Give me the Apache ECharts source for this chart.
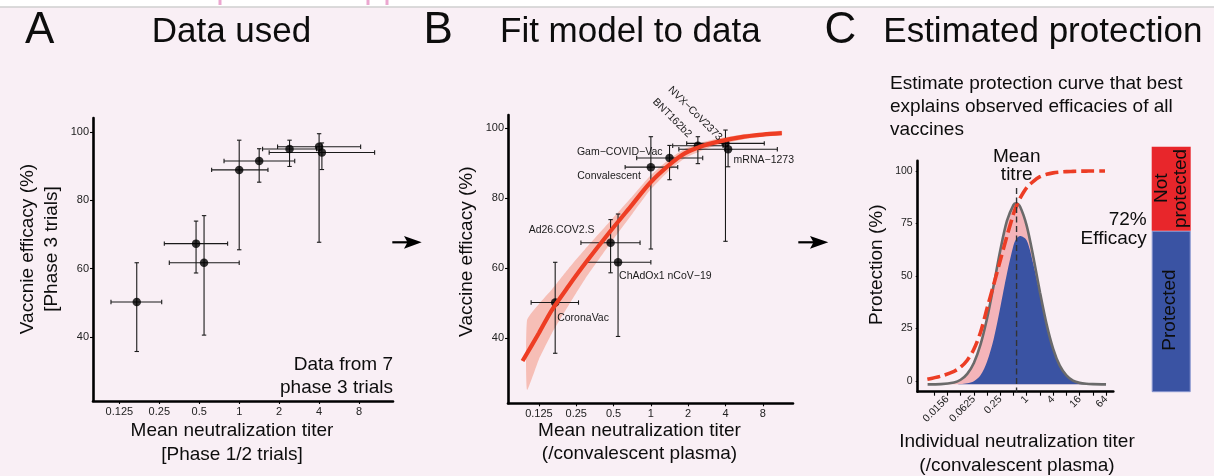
<!DOCTYPE html>
<html><head><meta charset="utf-8">
<script src="https://cdn.jsdelivr.net/npm/echarts@6/dist/echarts.min.js"></script>
<style>html,body{margin:0;padding:0;background:#f9eff5;}#c{width:1214px;height:476px;}</style>
</head><body><div id="c"></div>
<script>
// ---------------- DATA ----------------
const vaccines = ['CoronaVac','Ad26.COV2.S','ChAdOx1 nCoV\u221219','Convalescent','Gam\u2212COVID\u2212Vac','BNT162b2','NVX\u2212CoV2373','mRNA\u22121273'];
// mean neutralization titer, log2 units (relative to convalescent)
const log2Titer   = [-2.565,-1.08,-0.88, 0.00, 0.50, 1.26, 2.00, 2.07];
const log2TiterLo = [-3.21,-1.875,-1.75,-0.69,-0.38, 0.585, 0.96, 0.75];
const log2TiterHi = [-1.94,-0.29, 0.00, 0.72, 1.39, 1.935, 3.04, 3.39];
const efficacy    = [50.2, 67.3, 61.7, 88.9, 91.5, 95.0, 95.7, 94.0];
const efficacyLo  = [35.7, 58.7, 40.5, 65.5, 85.3, 89.9, 67.7, 89.0];
const efficacyHi  = [61.7, 73.9, 75.5, 97.6, 95.1, 97.6, 99.5, 96.8];

// fitted curve (panel B)
const fitLog2 = [-3.44,-3.0,-2.65,-2.2,-1.76,-1.13,-0.5,-0.03,0.5,0.92,1.4,1.81,2.5,3.0,3.51];
const fitEff  = [33.5,41.5,48.1,55.0,61.4,70.0,78.2,84.3,89.6,92.9,95.0,96.2,97.6,98.2,98.6];
const bandLog2  = [-3.32,-3.0,-2.65,-2.2,-1.76,-1.13,-0.5,-0.03,0.5,0.92,1.4,1.81,2.5,3.0,3.51];
const bandUpper = [45.2,49.8,54.0,60.0,65.5,73.0,80.5,86.3,91.2,94.2,96.1,97.1,98.3,98.8,99.3];
const bandLower = [25.2,34.0,41.5,49.5,57.0,66.5,75.5,82.2,88.0,91.5,93.8,95.3,96.9,97.6,98.0];

// panel C: individual titre distribution and protection
const cLog2 = [-7.5,-6.5,-5.5,-5,-4.5,-4,-3.5,-3,-2.5,-2,-1.5,-1,-0.8,-0.5,0,0.5,1,1.5,2,2.5,3,3.5,4,4.5,5,6];
const titreDensity     = [-1.7,-1.6,-0.8,0.5,3.3,8.5,17.2,29.8,45.5,62.2,76.1,83.8,84.5,82.9,73.8,58.9,42.2,27.0,15.2,7.2,2.6,0.1,-1.0,-1.45,-1.6,-1.7];
const protectedDensity = [-1.7,-1.7,-1.66,-1.56,-1.2,-0.2,2.6,9.2,19.9,35.0,51.0,64.5,67.5,68.9,66.8,55.5,41.0,26.5,15.0,7.15,2.6,0.1,-1.0,-1.45,-1.6,-1.7];
const protectionLog2 = [-7.52,-6.5,-5.5,-5,-4.5,-4,-3.5,-3,-2.5,-2,-1.5,-1,-0.8,-0.5,0,0.5,1,1.5,2,2.5,3,3.5,4,4.5,5,5.92];
const protectionPct  = [0.7,2.2,4.5,6.5,9.8,15,23,34.5,45.8,57.4,68.8,79.5,83,87,92,95,97.2,98.3,99,99.4,99.6,99.7,99.8,99.85,99.9,99.9];
const meanTitreLog2 = -0.77;
const densityBaseline = -1.7;
const efficacyBar = {protected: 72, notProtected: 28};

// ticks
const abTickLog2 = [-3,-2,-1,0,1,2,3];
const abTickLabels = ['0.125','0.25','0.5','1','2','4','8'];
const effTicks = [40,60,80,100];
const cTickLog2 = [-7,-6,-5,-4,-3,-2,-1,0,1,2,3,4,5,6];
const cLabelLog2 = [-6,-4,-2,0,2,4,6];
const cLabels = ['0.0156','0.0625','0.25','1','4','16','64'];
const cYTicks = [0,25,50,75,100];

// ---------------- CHART ----------------
const FONT = '"Liberation Sans", Arial, Helvetica, sans-serif';
const chart = echarts.init(document.getElementById('c'));
function fmtFrom(ticks, labels){ return v => { const i = ticks.findIndex(t => Math.abs(t - v) < 1e-6); return i < 0 ? '' : labels[i]; }; }
function axis(gi, min, max, tickVals, labelVals, fmt, o){
  o = o || {};
  return {
    type:'value', gridIndex:gi, min:min, max:max, scale:true,
    axisLine:{show:true, onZero:false, lineStyle:{color:'#000', width:2.6}},
    axisTick:{show:true, customValues:tickVals, length:o.tickLen||3, lineStyle:{color:'#000', width:1.1}},
    axisLabel:{show:true, customValues:labelVals, formatter:fmt, fontSize:o.fs||11, color:'#222', margin:o.margin||5, rotate:o.rotate||0, fontFamily:FONT},
    splitLine:{show:false}
  };
}
const pts = log2Titer.map((x,i)=>[x, efficacy[i], log2TiterLo[i], log2TiterHi[i], efficacyLo[i], efficacyHi[i]]);
function errRender(params, api){
  const x=api.value(0), y=api.value(1), xl=api.value(2), xh=api.value(3), yl=api.value(4), yh=api.value(5);
  const c=api.coord([x,y]), pl=api.coord([xl,y]), ph=api.coord([xh,y]), ql=api.coord([x,yl]), qh=api.coord([x,yh]);
  const k=2.2, st={stroke:'#1a1a1a', lineWidth:1.1};
  return {type:'group', children:[
    {type:'line', shape:{x1:pl[0],y1:c[1],x2:ph[0],y2:c[1]}, style:st},
    {type:'line', shape:{x1:pl[0],y1:c[1]-k,x2:pl[0],y2:c[1]+k}, style:st},
    {type:'line', shape:{x1:ph[0],y1:c[1]-k,x2:ph[0],y2:c[1]+k}, style:st},
    {type:'line', shape:{x1:c[0],y1:ql[1],x2:c[0],y2:qh[1]}, style:st},
    {type:'line', shape:{x1:c[0]-k,y1:ql[1],x2:c[0]+k,y2:ql[1]}, style:st},
    {type:'line', shape:{x1:c[0]-k,y1:qh[1],x2:c[0]+k,y2:qh[1]}, style:st}
  ]};
}
// confidence band: one polygon built from upper edge and reversed lower edge
const bandData = bandLog2.map((x,i)=>[x, bandLower[i], bandUpper[i]]);
function bandRender(params, api){
  if (params.dataIndex !== 0) return null;
  const up = bandData.map(d => api.coord([d[0], d[2]]));
  const lo = bandData.map(d => api.coord([d[0], d[1]])).reverse();
  return {type:'polygon', shape:{points:up.concat(lo), smooth:0.15}, style:{fill:'#f6beb6'}};
}
const abFmt = fmtFrom(abTickLog2, abTickLabels);

const option = {
  animation:false,
  backgroundColor:'#f9eff5',
  textStyle:{fontFamily:FONT},
  grid:[
    {left:93, top:118, width:300, height:283},
    {left:508, top:115, width:285, height:288.3},
    {left:917.7, top:160.7, width:195.6, height:231},
    {left:1151.7, top:146.7, width:39, height:245}
  ],
  xAxis:[
    axis(0,-3.66,3.85,abTickLog2,abTickLog2,abFmt,{margin:5}),
    axis(1,-3.83,3.81,abTickLog2,abTickLog2,abFmt,{margin:5}),
    axis(2,-8.25,6.55,cTickLog2,cLabelLog2,fmtFrom(cLabelLog2,cLabels),{rotate:45,tickLen:4,margin:6,fs:10.5}),
    {type:'category', gridIndex:3, data:['Efficacy'], show:false}
  ],
  yAxis:[
    axis(0,21.2,104.1,effTicks,effTicks,v=>String(v),{margin:4}),
    axis(1,21.4,103.8,effTicks,effTicks,v=>String(v),{margin:4}),
    axis(2,-5.2,104.8,cYTicks,cYTicks,v=>String(v),{margin:5,fs:10.5,tickLen:2}),
    {type:'value', gridIndex:3, min:18.3, max:100, show:false}
  ],
  series:[
    // Panel A
    {type:'custom', xAxisIndex:0, yAxisIndex:0, renderItem:errRender, data:pts, encode:{x:[0,2,3], y:[1,4,5]}},
    {type:'scatter', xAxisIndex:0, yAxisIndex:0, symbolSize:8.5, itemStyle:{color:'#000'}, data:pts.map(p=>[p[0],p[1]])},
    // Panel B
    {type:'custom', xAxisIndex:1, yAxisIndex:1, renderItem:bandRender, data:bandData, encode:{x:0, y:[1,2]}, silent:true},
    {type:'custom', xAxisIndex:1, yAxisIndex:1, renderItem:errRender, data:pts, encode:{x:[0,2,3], y:[1,4,5]}},
    {type:'line', xAxisIndex:1, yAxisIndex:1, symbol:'none', smooth:0.3, lineStyle:{color:'#ee3d23', width:4.2, cap:'butt'},
      data:fitLog2.map((x,i)=>[x,fitEff[i]])},
    {type:'scatter', xAxisIndex:1, yAxisIndex:1, symbolSize:8.5, itemStyle:{color:'#000'}, data:pts.map(p=>[p[0],p[1]])},
    // Panel C
    {type:'line', xAxisIndex:2, yAxisIndex:2, symbol:'none', smooth:0.3, lineStyle:{opacity:0},
      areaStyle:{color:'#f4b4b9', opacity:1, origin:densityBaseline}, data:cLog2.map((x,i)=>[x,titreDensity[i]])},
    {type:'line', xAxisIndex:2, yAxisIndex:2, symbol:'none', smooth:0.3, lineStyle:{opacity:0},
      areaStyle:{color:'#3a53a3', opacity:1, origin:densityBaseline}, data:cLog2.map((x,i)=>[x,protectedDensity[i]])},
    {type:'line', xAxisIndex:2, yAxisIndex:2, symbol:'none', smooth:0.3, lineStyle:{color:'#6a6a6a', width:2.6},
      data:cLog2.map((x,i)=>[x,titreDensity[i]])},
    {type:'line', xAxisIndex:2, yAxisIndex:2, symbol:'none', smooth:0.3, lineStyle:{color:'#ec3d25', width:3.6, type:[13,5]},
      data:protectionLog2.map((x,i)=>[x,protectionPct[i]])},
    {type:'line', xAxisIndex:2, yAxisIndex:2, symbol:'none', lineStyle:{color:'#333', width:1.4, type:[6,3.5]},
      data:[[meanTitreLog2,91.8],[meanTitreLog2,-5.2]]},
    // Efficacy bar
    {type:'bar', xAxisIndex:3, yAxisIndex:3, stack:'e', barWidth:'100%', data:[efficacyBar.protected],
      itemStyle:{color:'#3a53a3', borderColor:'#8795cf', borderWidth:1}},
    {type:'bar', xAxisIndex:3, yAxisIndex:3, stack:'e', barWidth:'100%', data:[efficacyBar.notProtected],
      itemStyle:{color:'#e8262b'}}
  ]
};

function txt(t, x, y, size, o){
  o = o || {};
  return {type:'text', x:x, y:y, rotation:o.rot||0, silent:true, z:100,
    style:{text:t, fill:o.color||'#0d0d0d', fontSize:size, fontFamily:FONT, align:o.align||'center', verticalAlign:'middle'}};
}
const graphics = [
  {type:'rect', shape:{x:0,y:0,width:1214,height:7}, style:{fill:'#ffffff'}, silent:true},
  {type:'line', shape:{x1:0,y1:7,x2:1214,y2:7}, style:{stroke:'#cfcfcf', lineWidth:1.5}, silent:true},
  {type:'rect', shape:{x:218.5,y:0,width:3,height:5}, style:{fill:'#eba7d0'}, silent:true},
  {type:'rect', shape:{x:366.5,y:0,width:3,height:5}, style:{fill:'#eba7d0'}, silent:true},
  {type:'rect', shape:{x:385.5,y:0,width:3,height:5}, style:{fill:'#eba7d0'}, silent:true},
  txt('A', 25, 31, 44, {align:'left'}),
  txt('Data used', 151.7, 32, 35, {align:'left'}),
  txt('B', 423.5, 31, 44, {align:'left'}),
  txt('Fit model to data', 500, 32, 35, {align:'left'}),
  txt('C', 824.5, 31, 44, {align:'left'}),
  txt('Estimated protection', 883.3, 32, 35, {align:'left'}),
  // arrows
  {type:'line', shape:{x1:392.3,y1:242.3,x2:410,y2:242.3}, style:{stroke:'#000', lineWidth:2.2}, silent:true},
  {type:'polygon', shape:{points:[[404,236],[421.7,242.3],[404,248.8],[407.5,242.3]]}, style:{fill:'#000'}, silent:true},
  {type:'line', shape:{x1:798.3,y1:242.3,x2:815,y2:242.3}, style:{stroke:'#000', lineWidth:2.2}, silent:true},
  {type:'polygon', shape:{points:[[810,236],[828.3,242.3],[810,248.8],[813.5,242.3]]}, style:{fill:'#000'}, silent:true},
  // panel A texts
  txt('Vaccnie efficacy (%)', 28, 249, 19, {rot:Math.PI/2}),
  txt('[Phase 3 trials]', 52, 249, 19, {rot:Math.PI/2}),
  txt('Mean neutralization titer', 232, 430.7, 19),
  txt('[Phase 1/2 trials]', 232, 455, 19),
  txt('Data from 7', 393, 365, 19, {align:'right'}),
  txt('phase 3 trials', 393, 387.5, 19, {align:'right'}),
  // panel B texts
  txt('Vaccine efficacy (%)', 467, 251.7, 19, {rot:Math.PI/2}),
  txt('Mean neutralization titer', 639.5, 430.7, 19),
  txt('(/convalescent plasma)', 639.5, 453.3, 19),
  // panel C texts
  txt('Estimate protection curve that best', 890, 83.3, 19, {align:'left'}),
  txt('explains observed efficacies of all', 890, 106.7, 19, {align:'left'}),
  txt('vaccines', 890, 129.5, 19, {align:'left'}),
  txt('Mean', 1016.7, 156.7, 19),
  txt('titre', 1016.7, 174.5, 19),
  txt('Protection (%)', 877, 264.7, 19, {rot:Math.PI/2}),
  txt('Individual neutralization titer', 1017, 442, 19),
  txt('(/convalescent plasma)', 1017, 466, 19),
  txt('72%', 1146.7, 220, 19, {align:'right'}),
  txt('Efficacy', 1146.7, 239, 19, {align:'right'}),
  txt('Not', 1161.7, 188.3, 19, {rot:Math.PI/2}),
  txt('protected', 1181.2, 188.5, 19, {rot:Math.PI/2}),
  txt('Protected', 1169.5, 310, 19, {rot:Math.PI/2})
];
option.graphic = graphics;
chart.setOption(option);

// vaccine labels in panel B, anchored to the data points
const labelCfg = [
  {dx:2, dy:16, align:'left'},
  {dx:-16, dy:-13, align:'right'},
  {dx:1, dy:14, align:'left'},
  {dx:-10, dy:9, align:'right'},
  {dx:-7, dy:-6.4, align:'right'},
  {dx:-8, dy:-10, align:'right', rot:-Math.PI/4},
  {dx:-5, dy:-4.5, align:'right', rot:-Math.PI/4},
  {dx:5.5, dy:10.7, align:'left'}
];
vaccines.forEach((name,i)=>{
  const p = chart.convertToPixel({gridIndex:1}, [log2Titer[i], efficacy[i]]);
  const c = labelCfg[i];
  graphics.push(txt(name, p[0]+c.dx, p[1]+c.dy, 10.5, {align:c.align, rot:c.rot||0, color:'#1a1a1a'}));
});
chart.setOption({graphic:graphics});
</script></body></html>
